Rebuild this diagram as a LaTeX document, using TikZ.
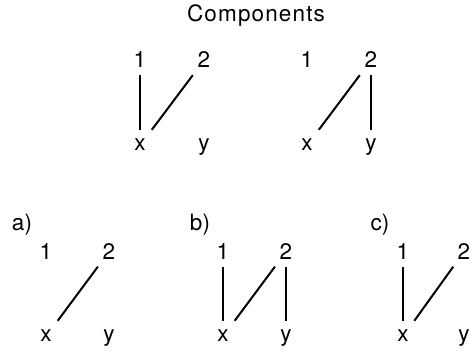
\documentclass[tikz,border=0pt]{standalone}
\usepackage{fontspec}
\setmainfont{TeX Gyre Heros}
\usepackage{tikz}
\usetikzlibrary{positioning}

\begin{document}
\begin{tikzpicture}[x=1pt,y=-1pt,
    every node/.style={font=\fontsize{22.5}{26}\selectfont},
    digit/.style={anchor=base,text height=15.5pt,text depth=0pt,inner xsep=6pt,inner ysep=7pt},
    letter/.style={anchor=base,text height=11pt,text depth=0pt,inner xsep=7pt,inner ysep=10pt},
    link/.style={line width=2pt}]
      % Page frame
      \useasboundingbox (0,0) rectangle (472,352);
      % Title
      \node[anchor=base,font=\fontsize{22.5}{26}\addfontfeatures{LetterSpace=5}\selectfont] (title) at (256,22) {Components};
      % First component
      \node[digit] (P1) at (140,68) {1};
      \node[digit] (P2) at (204,68) {2};
      \node[letter] (Px) at (140,151) {x};
      \node[letter] (Py) at (204,151) {y};
      \draw[link] (P1) -- (Px);
      \draw[link] (P2) -- (Px);
      % Second component
      \node[digit] (Q1) at (307,68) {1};
      \node[digit] (Q2) at (371,68) {2};
      \node[letter] (Qx) at (307,151) {x};
      \node[letter] (Qy) at (371,151) {y};
      \draw[link] (Q2) -- (Qx);
      \draw[link] (Q2) -- (Qy);
      % Case a)
      \node[anchor=base] (capa) at (22,231) {a)};
      \node[digit] (a1) at (46,259.5) {1};
      \node[digit] (a2) at (109,259.5) {2};
      \node[letter] (ax) at (46,342) {x};
      \node[letter] (ay) at (109,342) {y};
      \draw[link] (a2) -- (ax);
      % Case b)
      \node[anchor=base] (capb) at (200,231) {b)};
      \node[digit] (b1) at (223,259.5) {1};
      \node[digit] (b2) at (286,259.5) {2};
      \node[letter] (bx) at (223,342) {x};
      \node[letter] (by) at (286,342) {y};
      \draw[link] (b1) -- (bx);
      \draw[link] (b2) -- (bx);
      \draw[link] (b2) -- (by);
      % Case c)
      \node[anchor=base] (capc) at (380,231) {c)};
      \node[digit] (c1) at (403,259.5) {1};
      \node[digit] (c2) at (464,259.5) {2};
      \node[letter] (cx) at (403,342) {x};
      \node[letter] (cy) at (464,342) {y};
      \draw[link] (c1) -- (cx);
      \draw[link] (c2) -- (cx);
\end{tikzpicture}
\end{document}
